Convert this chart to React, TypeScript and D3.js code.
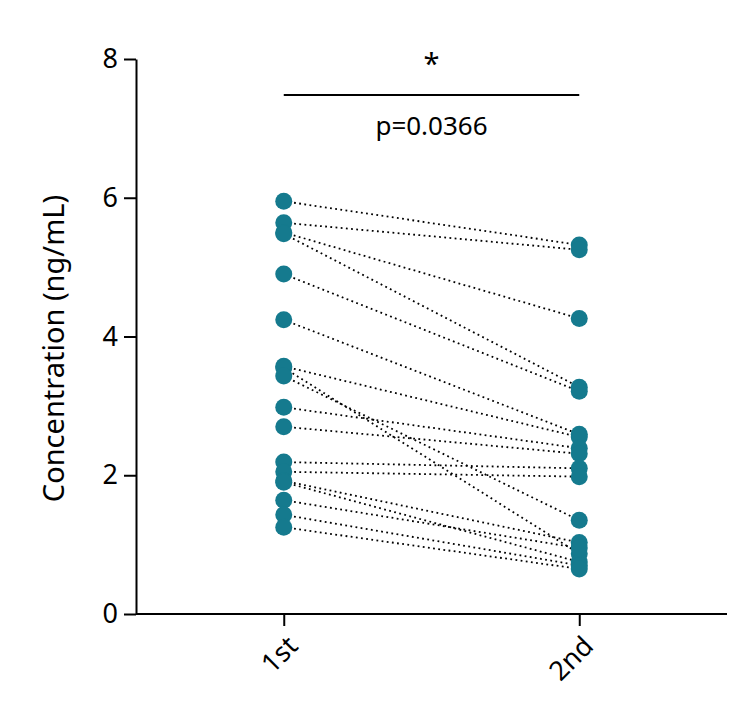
import { useEffect, useRef } from 'react';
import * as d3 from 'd3';

const groups = ['1st', '2nd'];
const firstValues = [5.95, 5.64, 5.5, 5.48, 4.9, 4.24, 3.57, 3.55, 3.43, 2.98, 2.7, 2.19, 2.05, 1.92, 1.9, 1.64, 1.43, 1.25];
const secondValues = [5.32, 5.25, 4.26, 3.27, 3.21, 2.59, 2.55, 0.87, 1.35, 2.39, 2.31, 2.1, 1.98, 1.03, 0.75, 0.95, 0.7, 0.65];
const yTicks = [0, 2, 4, 6, 8];
const pLabel = 'p=0.0366';

const W = 750;
const H = 726;

export default function App() {
  const svgRef = useRef<SVGSVGElement>(null);

  useEffect(() => {
    if (!svgRef.current) return;
    const svg = d3.select(svgRef.current);
    svg.selectAll('*').remove();

    const font = "'Noto Sans', 'Open Sans', sans-serif";
    const left = 136;
    const right = 727;
    const top = 59;
    const bottom = 614;

    const x = d3.scalePoint<string>().domain(groups).range([left, right]).padding(0.5);
    const y = d3.scaleLinear().domain([0, 8]).range([bottom, top]);

    // axes
    const yAxis = svg
      .append('g')
      .attr('transform', `translate(${left},0)`)
      .call(d3.axisLeft(y).tickValues(yTicks).tickSize(12).tickSizeOuter(0).tickPadding(6));
    yAxis.select('.domain').attr('stroke', '#000').attr('stroke-width', 2);
    yAxis.selectAll('.tick line').attr('stroke', '#000').attr('stroke-width', 2);
    yAxis.selectAll('.tick text').attr('font-family', font).attr('font-size', 27).attr('fill', '#000');

    const xAxis = svg
      .append('g')
      .attr('transform', `translate(0,${bottom})`)
      .call(d3.axisBottom(x).tickSize(12).tickSizeOuter(0).tickFormat(() => ''));
    xAxis.select('.domain').attr('stroke', '#000').attr('stroke-width', 2).attr('d', `M${left},0H${right}`);
    xAxis.selectAll('.tick line').attr('stroke', '#000').attr('stroke-width', 2);

    groups.forEach((g) => {
      svg
        .append('text')
        .attr('transform', `translate(${(x(g) ?? 0) + 9},${bottom + 27}) rotate(-45)`)
        .attr('text-anchor', 'end')
        .attr('dy', '0.35em')
        .attr('font-family', font)
        .attr('font-size', 27)
        .text(g);
    });

    svg
      .append('text')
      .attr('transform', `translate(64,${(top + bottom) / 2 + 12}) rotate(-90)`)
      .attr('text-anchor', 'middle')
      .attr('font-family', font)
      .attr('font-size', 29)
      .text('Concentration (ng/mL)');

    // paired lines
    const x1 = x('1st') ?? 0;
    const x2 = x('2nd') ?? 0;
    svg
      .append('g')
      .selectAll('line')
      .data(firstValues.map((v, i) => [v, secondValues[i]]))
      .join('line')
      .attr('x1', x1)
      .attr('x2', x2)
      .attr('y1', (d) => y(d[0]))
      .attr('y2', (d) => y(d[1]))
      .attr('stroke', '#000')
      .attr('stroke-width', 1.8)
      .attr('stroke-dasharray', '1.8,3.4');

    // points
    const color = '#157a8e';
    svg
      .append('g')
      .selectAll('circle')
      .data(firstValues)
      .join('circle')
      .attr('cx', x1)
      .attr('cy', (d) => y(d))
      .attr('r', 8.5)
      .attr('fill', color);
    svg
      .append('g')
      .selectAll('circle')
      .data(secondValues)
      .join('circle')
      .attr('cx', x2)
      .attr('cy', (d) => y(d))
      .attr('r', 8.5)
      .attr('fill', color);

    // significance bar
    svg
      .append('line')
      .attr('x1', x1)
      .attr('x2', x2)
      .attr('y1', 95)
      .attr('y2', 95)
      .attr('stroke', '#000')
      .attr('stroke-width', 2);
    svg
      .append('text')
      .attr('x', (x1 + x2) / 2)
      .attr('y', 74)
      .attr('text-anchor', 'middle')
      .attr('font-family', font)
      .attr('font-size', 29)
      .text('*');
    svg
      .append('text')
      .attr('x', (x1 + x2) / 2)
      .attr('y', 135)
      .attr('text-anchor', 'middle')
      .attr('font-family', font)
      .attr('font-size', 26)
      .text(pLabel);
  }, []);

  return (
    <svg
      ref={svgRef}
      width={W}
      height={H}
      style={{ position: 'absolute', left: 0, top: 0, background: '#fff' }}
    />
  );
}
